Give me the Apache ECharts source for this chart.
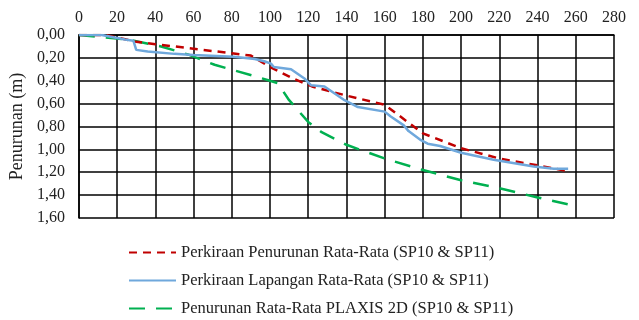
<!DOCTYPE html>
<html>
<head>
<meta charset="utf-8">
<script src="https://cdn.jsdelivr.net/npm/echarts@6/dist/echarts.min.js"></script>
<style>
  html, body { margin: 0; padding: 0; background: #fff; }
  #chart { width: 639px; height: 320px; }
</style>
</head>
<body>
<div id="chart"></div>
<script>
// time axis ticks (x) and settlement ticks (y)
const xTicks = [0, 20, 40, 60, 80, 100, 120, 140, 160, 180, 200, 220, 240, 260, 280];
const yTicks = [0, 0.2, 0.4, 0.6, 0.8, 1.0, 1.2, 1.4, 1.6];

// Perkiraan Penurunan Rata-Rata
const perkiraanX = [0, 14, 30, 40, 60, 80, 90, 100, 112, 122, 140, 160, 180, 200, 220, 240, 256];
const perkiraanY = [0, 0, 0.06, 0.08, 0.12, 0.16, 0.18, 0.28, 0.38, 0.45, 0.53, 0.61, 0.86, 0.99, 1.08, 1.14, 1.19];

// Perkiraan Lapangan Rata-Rata
const lapanganX = [0, 12, 24, 28.5, 30, 36, 50, 60, 81, 92, 97, 100.5, 102, 111, 118, 121.5, 128.5, 139, 146, 160, 163, 170, 172.5, 179, 182.5, 189, 200, 217, 238, 248.5, 256];
const lapanganY = [0, 0, 0.04, 0.05, 0.13, 0.145, 0.165, 0.175, 0.19, 0.21, 0.23, 0.25, 0.28, 0.30, 0.38, 0.44, 0.45, 0.57, 0.63, 0.67, 0.71, 0.79, 0.84, 0.92, 0.95, 0.97, 1.03, 1.09, 1.15, 1.17, 1.17];

// Penurunan Rata-Rata PLAXIS 2D
const plaxisX = [0, 12, 26, 43, 57, 71, 92, 100, 104, 110, 120, 127, 140, 160, 180, 200, 220, 240, 256];
const plaxisY = [0, 0.02, 0.04, 0.10, 0.17, 0.26, 0.36, 0.40, 0.42, 0.57, 0.76, 0.85, 0.96, 1.08, 1.18, 1.27, 1.34, 1.42, 1.48];

const zip = (xs, ys) => xs.map((x, i) => [x, ys[i]]);
const serif = '"Liberation Serif", "DejaVu Serif", serif';

const chart = echarts.init(document.getElementById('chart'));
chart.setOption({
  animation: false,
  grid: { left: 77, right: 25, top: 35, bottom: 102 },
  legend: {
    orient: 'vertical',
    left: 128,
    top: 244,
    height: 100,
    padding: 0,
    itemWidth: 47,
    itemHeight: 14,
    itemGap: 11,
    itemStyle: { opacity: 0 },   // hide the marker, keep the line
    textStyle: { fontFamily: serif, fontSize: 16.5, lineHeight: 14, color: '#222' },
    data: [
      'Perkiraan Penurunan Rata-Rata (SP10 & SP11)',
      'Perkiraan Lapangan Rata-Rata (SP10 & SP11)',
      'Penurunan Rata-Rata PLAXIS 2D (SP10 & SP11)'
    ]
  },
  xAxis: {
    type: 'value',
    position: 'top',
    min: xTicks[0],
    max: xTicks[xTicks.length - 1],
    interval: 20,
    axisLine: { show: true, lineStyle: { color: '#000', width: 1.5 } },
    axisTick: { show: false },
    axisLabel: { fontFamily: serif, fontSize: 16, color: '#222', margin: 9 },
    splitLine: { show: true, lineStyle: { color: '#000', width: 1.5 } }
  },
  yAxis: {
    type: 'value',
    inverse: true,
    min: yTicks[0],
    max: yTicks[yTicks.length - 1],
    interval: 0.2,
    name: 'Penurunan (m)',
    nameLocation: 'middle',
    nameGap: 50,
    nameTextStyle: { fontFamily: serif, fontSize: 18, color: '#222' },
    axisLine: { show: true, lineStyle: { color: '#000', width: 1.5 } },
    axisTick: { show: false },
    axisLabel: {
      fontFamily: serif, fontSize: 16, color: '#222', margin: 14,
      formatter: v => v.toFixed(2).replace('.', ',')
    },
    splitLine: { show: true, lineStyle: { color: '#000', width: 1.5 } }
  },
  series: [
    {
      name: 'Perkiraan Penurunan Rata-Rata (SP10 & SP11)',
      type: 'line',
      data: zip(perkiraanX, perkiraanY),
      symbol: 'none',
      lineStyle: { color: '#c00000', width: 2.5, type: [8, 6] },
      itemStyle: { color: '#c00000' },
      z: 3
    },
    {
      name: 'Perkiraan Lapangan Rata-Rata (SP10 & SP11)',
      type: 'line',
      data: zip(lapanganX, lapanganY),
      symbol: 'none',
      lineStyle: { color: '#6fa8dc', width: 2.5 },
      itemStyle: { color: '#6fa8dc' },
      z: 4
    },
    {
      name: 'Penurunan Rata-Rata PLAXIS 2D (SP10 & SP11)',
      type: 'line',
      data: zip(plaxisX, plaxisY),
      symbol: 'none',
      lineStyle: { color: '#00b050', width: 2.5, type: [16, 11] },
      itemStyle: { color: '#00b050' },
      z: 2
    }
  ]
});
</script>
</body>
</html>
